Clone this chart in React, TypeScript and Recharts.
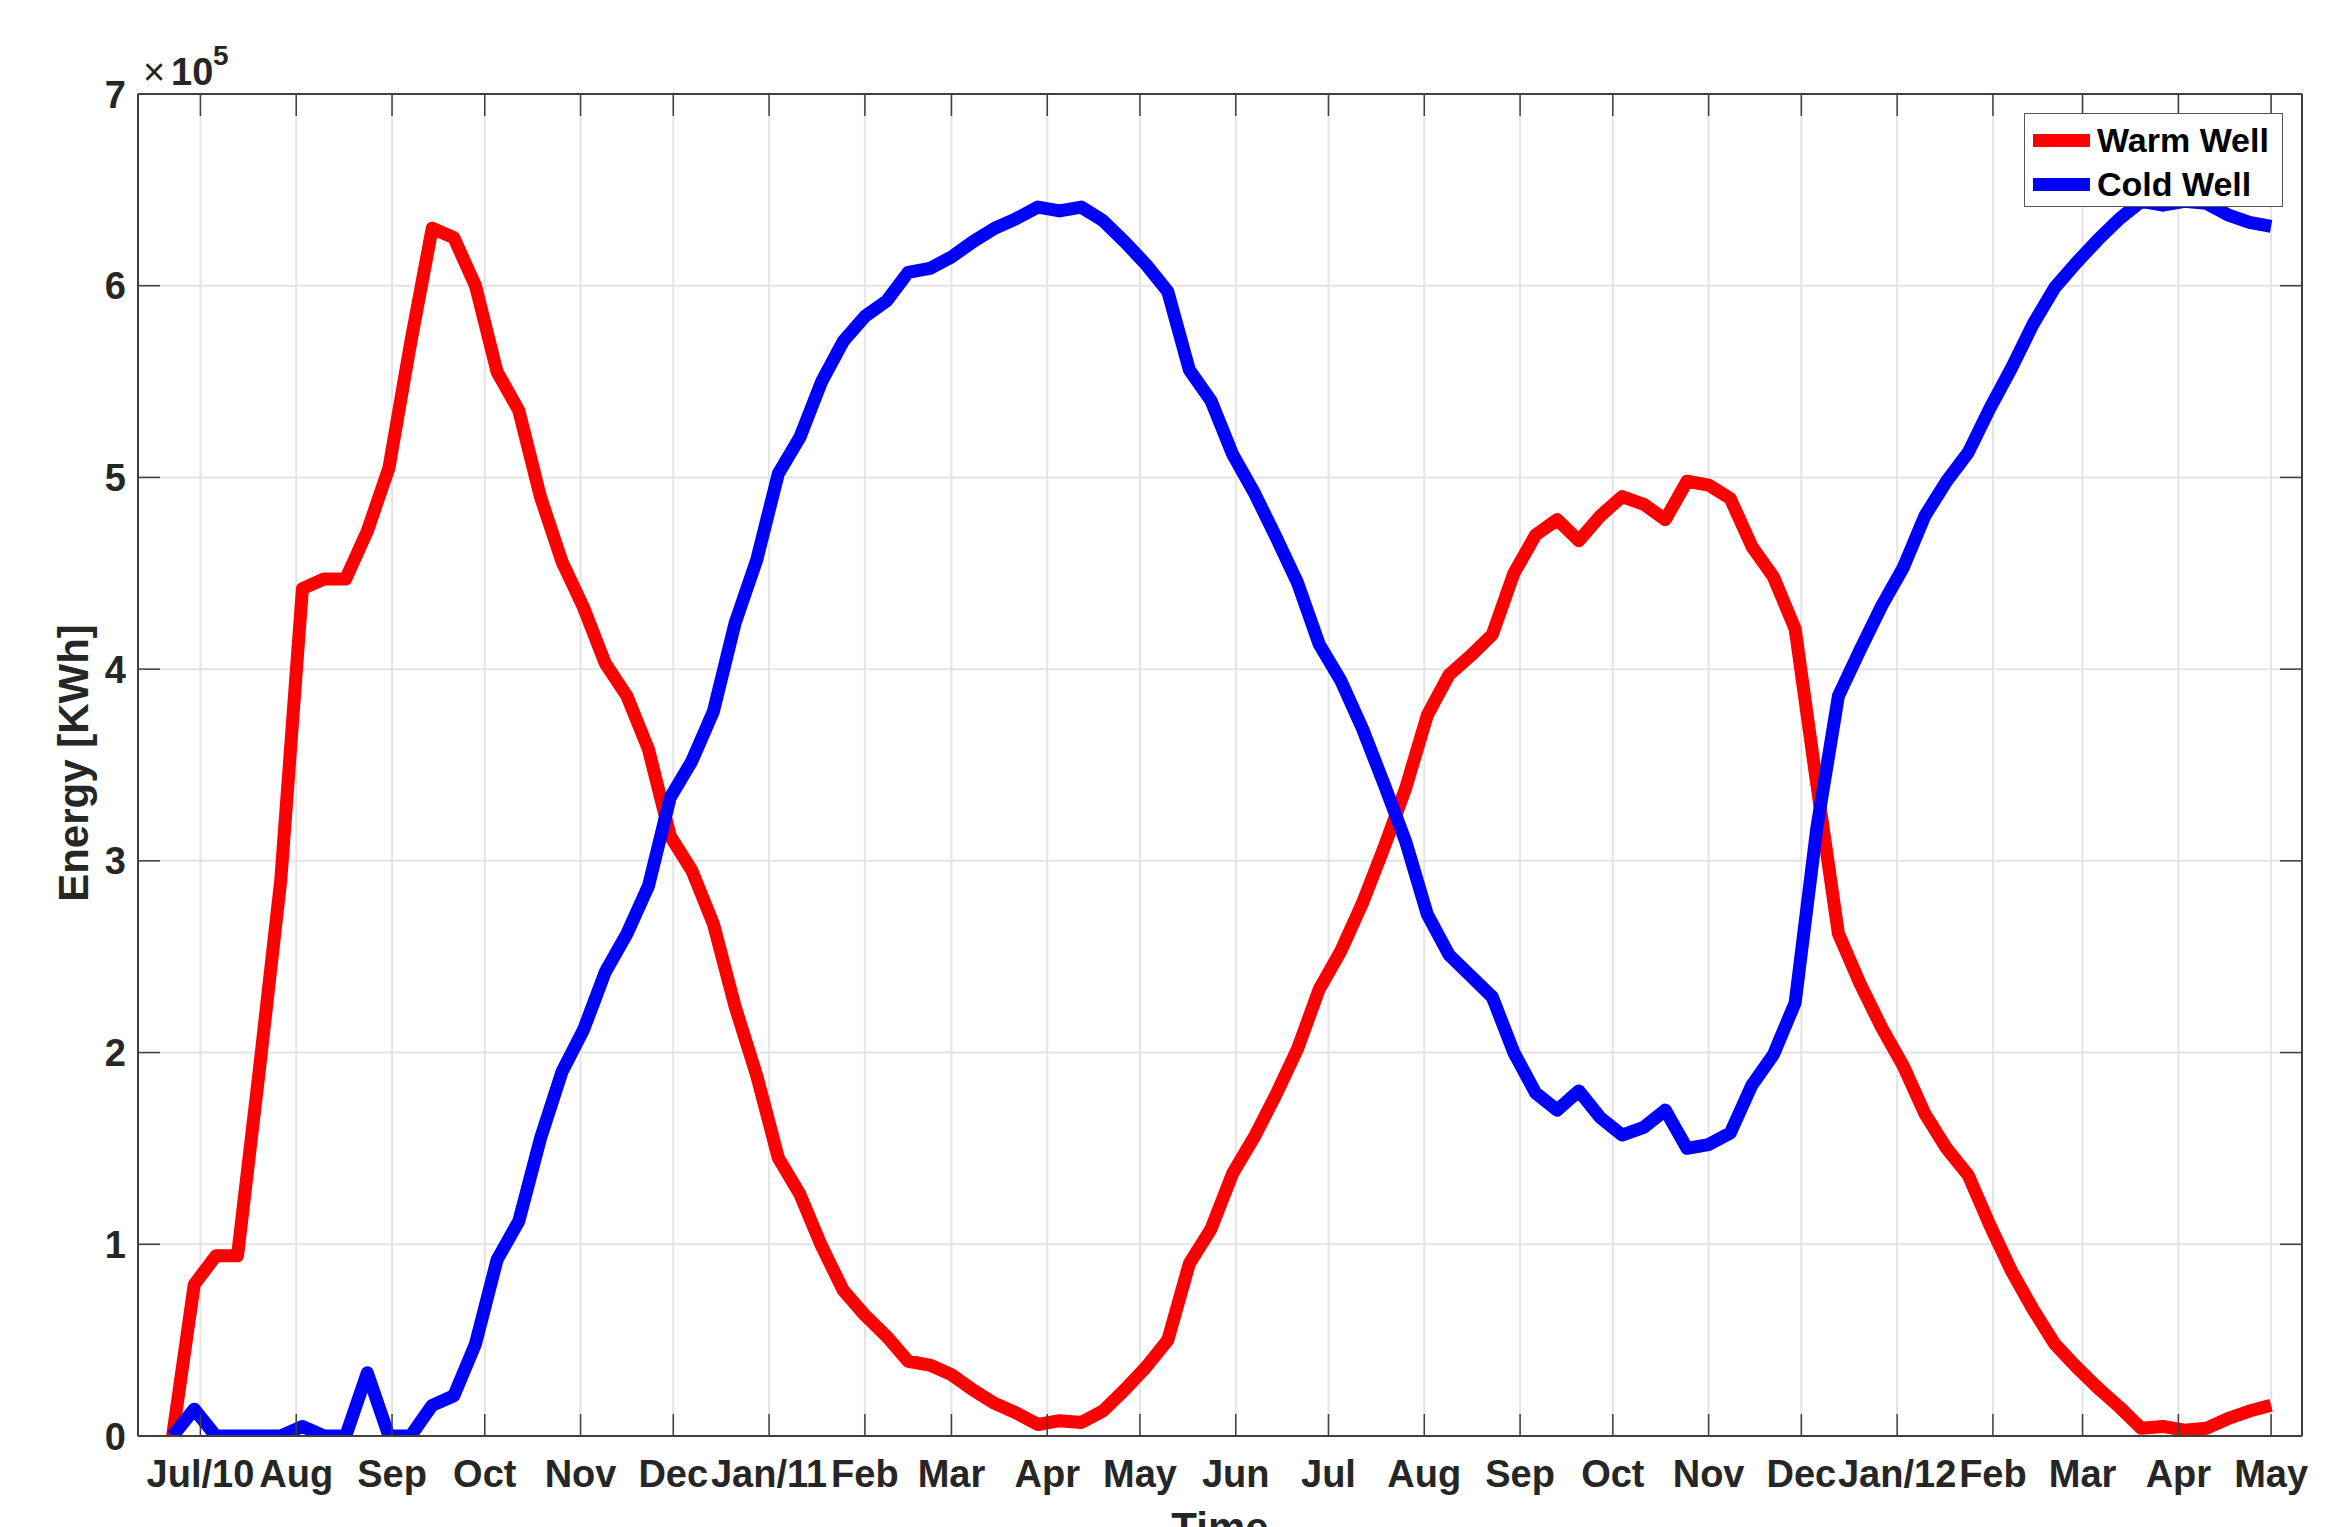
import { LineChart, Line, XAxis, YAxis, CartesianGrid, ReferenceLine } from "recharts";

// weekly samples, days counted from 1 Jul 2010
const START_DAY = -9;
const STEP_DAYS = 7;

const warmWell = [
  0, 79000, 94000, 94000, 190000, 290000, 442000, 447000, 447000, 472000,
  505000, 570000, 630000, 625000, 600000, 555000, 535000, 490000, 456000, 432000,
  403000, 386000, 358000, 313000, 295000, 267000, 224000, 188000, 145000, 126000,
  99000, 76000, 63000, 52000, 39000, 37000, 32000, 24000, 17000, 12000,
  6000, 8000, 7000, 13000, 24000, 36000, 50000, 90000, 108000, 137000,
  156000, 178000, 202000, 233000, 253000, 278000, 307000, 338000, 376000, 397000,
  407000, 418000, 450000, 470000, 478000, 467000, 480000, 490000, 486000, 478000,
  498000, 496000, 489000, 464000, 448000, 421000, 340000, 262000, 236000, 213000,
  193000, 168000, 150000, 136000, 110000, 86000, 66000, 48000, 36000, 25000,
  15000, 4000, 5000, 3000, 4000, 9000, 13000, 16000,
];

const coldWell = [
  0, 14000, 0, 0, 0, 0, 5000, 0, 0, 33000,
  0, 0, 16000, 21000, 48000, 92000, 112000, 155000, 190000, 212000,
  242000, 262000, 287000, 333000, 352000, 378000, 424000, 457000, 502000, 521000,
  550000, 571000, 584000, 592000, 607000, 609000, 615000, 623000, 630000, 635000,
  641000, 639000, 641000, 634000, 623000, 611000, 597000, 556000, 540000, 512000,
  492000, 469000, 445000, 413000, 394000, 369000, 340000, 310000, 272000, 251000,
  240000, 229000, 200000, 179000, 170000, 180000, 166000, 157000, 161000, 170000,
  150000, 152000, 158000, 183000, 199000, 226000, 317000, 386000, 410000, 433000,
  453000, 480000, 498000, 513000, 536000, 557000, 580000, 599000, 612000, 624000,
  635000, 644000, 642000, 644000, 643000, 637000, 633000, 631000,
];

const monthTicks = [0, 31, 62, 92, 123, 153, 184, 215, 243, 274, 304, 335, 365, 396, 427, 457, 488, 518, 549, 580, 609, 640, 670];
const monthLabels = ["Jul/10", "Aug", "Sep", "Oct", "Nov", "Dec", "Jan/11", "Feb", "Mar", "Apr", "May", "Jun", "Jul", "Aug", "Sep", "Oct", "Nov", "Dec", "Jan/12", "Feb", "Mar", "Apr", "May"];
const energyTicks = [0, 100000, 200000, 300000, 400000, 500000, 600000, 700000];

const X_MIN = -20.2;
const X_MAX = 680;
const Y_MAX = 700000;

const W = 2344;
const H = 1527;
const PLOT_TOP = 94;
const PLOT_LEFT = 138;
const PLOT_RIGHT = 2302;
const TICK_LEN = 22;
const AXIS = "#404040";
const TEXT = "#262626";
const FONT = "'Liberation Sans', Arial, Helvetica, sans-serif";

const series = [
  { key: "warm", name: "Warm Well", color: "#ff0000" },
  { key: "cold", name: "Cold Well", color: "#0000ff" },
];

const data = warmWell.map((w, i) => ({
  day: START_DAY + STEP_DAYS * i,
  warm: w,
  cold: coldWell[i],
}));

const XTick = ({ x, y, payload }: any) => {
  const idx = monthTicks.indexOf(payload.value);
  return (
    <g>
      <line x1={x} x2={x} y1={y} y2={y - TICK_LEN} stroke={AXIS} strokeWidth={1.5} />
      <line x1={x} x2={x} y1={PLOT_TOP} y2={PLOT_TOP + TICK_LEN} stroke={AXIS} strokeWidth={1.5} />
      <text x={x} y={y + 51} textAnchor="middle" fontFamily={FONT} fontWeight="bold" fontSize={38} fill={TEXT}>
        {idx >= 0 ? monthLabels[idx] : ""}
      </text>
    </g>
  );
};

const YTick = ({ x, y, payload }: any) => (
  <g>
    <line x1={x} x2={x + TICK_LEN} y1={y} y2={y} stroke={AXIS} strokeWidth={1.5} />
    <line x1={PLOT_RIGHT} x2={PLOT_RIGHT - TICK_LEN} y1={y} y2={y} stroke={AXIS} strokeWidth={1.5} />
    <text x={x - 12} y={y + 13.5} textAnchor="end" fontFamily={FONT} fontWeight="bold" fontSize={38} fill={TEXT}>
      {payload.value / 100000}
    </text>
  </g>
);

export default function App() {
  return (
    <div style={{ position: "absolute", left: 0, top: 0, width: W, height: H, overflow: "hidden", background: "#fff" }}>
      <LineChart width={W} height={H} data={data} margin={{ top: PLOT_TOP, right: W - PLOT_RIGHT, bottom: 0, left: 0 }}>
        <CartesianGrid stroke="#e4e4e4" strokeWidth={2} />
        <XAxis dataKey="day" type="number" domain={[X_MIN, X_MAX]} allowDataOverflow ticks={monthTicks}
          interval={0} height={91} tickSize={0} tickMargin={0} tickLine={false}
          axisLine={{ stroke: AXIS, strokeWidth: 2 }} tick={<XTick />} />
        <YAxis type="number" domain={[0, Y_MAX]} allowDataOverflow ticks={energyTicks} interval={0}
          width={PLOT_LEFT} tickSize={0} tickMargin={0} tickLine={false}
          axisLine={{ stroke: AXIS, strokeWidth: 2 }} tick={<YTick />} />
        <ReferenceLine y={Y_MAX} stroke={AXIS} strokeWidth={2} />
        <ReferenceLine x={X_MAX} stroke={AXIS} strokeWidth={2} />
        {series.map((s) => (
          <Line key={s.key} type="linear" dataKey={s.key} name={s.name} stroke={s.color} strokeWidth={13}
            strokeLinejoin="round" dot={false} activeDot={false} isAnimationActive={false} />
        ))}
      </LineChart>

      <svg width={W} height={H} style={{ position: "absolute", left: 0, top: 0, pointerEvents: "none" }}>
        <text x={143} y={85} fontFamily={FONT} fontSize={38} fill={TEXT}>×</text>
        <text x={171} y={85} fontFamily={FONT} fontWeight="bold" fontSize={38} fill={TEXT}>10</text>
        <text x={213} y={65} fontFamily={FONT} fontWeight="bold" fontSize={28} fill={TEXT}>5</text>
        <text x={88} y={763} transform="rotate(-90 88 763)" textAnchor="middle" fontFamily={FONT} fontWeight="bold" fontSize={42} fill={TEXT}>
          Energy [KWh]
        </text>
        <text x={(PLOT_LEFT + PLOT_RIGHT) / 2} y={1542} textAnchor="middle" fontFamily={FONT} fontWeight="bold" fontSize={42} fill={TEXT}>
          Time
        </text>
      </svg>

      <div style={{
        position: "absolute", left: 2024, top: 113, width: 257, height: 92,
        border: "1.5px solid #555", background: "#fff", fontFamily: FONT, fontWeight: "bold",
        fontSize: 34, color: "#000", boxSizing: "content-box",
      }}>
        {series.map((s, i) => (
          <div key={s.key} style={{ position: "absolute", left: 0, top: 6 + i * 44, height: 40, display: "flex", alignItems: "center", whiteSpace: "nowrap" }}>
            <div style={{ width: 57, height: 13, background: s.color, marginLeft: 8, marginRight: 7 }} />
            <span>{s.name}</span>
          </div>
        ))}
      </div>
    </div>
  );
}
